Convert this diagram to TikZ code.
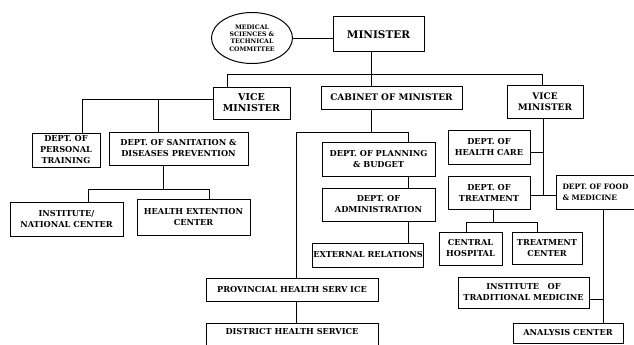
\documentclass[tikz,border=0pt]{standalone}
\usepackage{fontspec}
\setmainfont{DejaVu Serif}
\usetikzlibrary{shapes, calc}

\begin{document}
\begin{tikzpicture}[x=1pt, y=-1pt,
    box/.style={draw, line width=1pt, align=center, inner sep=1pt, font=\bfseries\fontsize{8.2}{11}\selectfont},
    link/.style={line width=0.9pt}]
    \useasboundingbox (0,0) rectangle (634,345);
    \clip (0,0) rectangle (634,345);

    \node[box, ellipse, minimum width=81, minimum height=51, inner sep=0pt, font=\bfseries\fontsize{6.2}{7.4}\selectfont] (committee) at (252,38) {MEDICAL\\SCIENCES \&\\TECHNICAL\\COMMITTEE};
    \node[box, minimum width=91, minimum height=35, font=\bfseries\fontsize{10.5}{12}\selectfont] (minister) at (378.5,34.5) {MINISTER};
    \node[box, minimum width=77, minimum height=32, font=\bfseries\fontsize{9.5}{11}\selectfont] (vicel) at (251.5,103) {VICE\\MINISTER};
    \node[box, minimum width=141, minimum height=23, font=\bfseries\fontsize{9}{10}\selectfont] (cabinet) at (391.5,97.5) {CABINET OF MINISTER};
    \node[box, minimum width=76, minimum height=33, font=\bfseries\fontsize{9}{11}\selectfont] (vicer) at (545,101.5) {VICE\\MINISTER};

    \node[box, minimum width=68, minimum height=34] (personal) at (66,150) {DEPT. OF\\PERSONAL\\TRAINING};
    \node[box, minimum width=139, minimum height=33] (sanitation) at (178.5,148.5) {DEPT. OF SANITATION \&\\DISEASES PREVENTION};
    \node[box, minimum width=113, minimum height=34] (institute) at (66.5,219) {INSTITUTE/\\NATIONAL CENTER};
    \node[box, minimum width=113, minimum height=36] (extension) at (193.5,217) {HEALTH EXTENTION\\CENTER};

    \node[box, minimum width=113, minimum height=34] (planning) at (378.5,159) {DEPT. OF PLANNING\\\& BUDGET};
    \node[box, minimum width=113, minimum height=33] (admin) at (378.5,204.5) {DEPT. OF\\ADMINISTRATION};
    \node[box, minimum width=110, minimum height=24] (external) at (368,255) {EXTERNAL RELATIONS};
    \node[box, minimum width=172, minimum height=23] (provincial) at (292,289.5) {PROVINCIAL HEALTH SERV ICE};
    \node[box, anchor=north, minimum width=172, inner ysep=5pt, text depth=20pt] (district) at (292,323) {DISTRICT HEALTH SERVICE};

    \node[box, minimum width=82, minimum height=34] (healthcare) at (489,147) {DEPT. OF\\HEALTH CARE};
    \node[box, minimum width=82, minimum height=33] (treatment) at (489,192.5) {DEPT. OF\\TREATMENT};
    \node[box, anchor=west, align=left, minimum height=34, text width=80pt, inner xsep=6pt, font=\bfseries\fontsize{7.4}{11}\selectfont] (food) at (556,192) {DEPT. OF FOOD\\\& MEDICINE};
    \node[box, minimum width=63, minimum height=33] (hospital) at (470.5,248.5) {CENTRAL\\HOSPITAL};
    \node[box, minimum width=70, minimum height=32] (tcenter) at (547,248) {TREATMENT\\CENTER};
    \node[box, minimum width=131, minimum height=31] (traditional) at (523.5,292.5) {INSTITUTE~~~OF\\TRADITIONAL MEDICINE};
    \node[box, minimum width=110, minimum height=20] (analysis) at (568,333) {ANALYSIS CENTER};

    \coordinate (tl) at (227,74);
    \coordinate (tm) at (371,74);
    \coordinate (tr) at (542,74);
    \coordinate (pl) at (82,99);
    \coordinate (sl) at (158,99);
    \coordinate (sb) at (163,189);
    \coordinate (il) at (88,189);
    \coordinate (hl) at (209,189);
    \coordinate (cb) at (371,132);
    \coordinate (pv) at (296,132);
    \coordinate (pp) at (408,132);
    \coordinate (rb) at (543,195);
    \coordinate (hc) at (543,152);
    \coordinate (tb) at (493,222);
    \coordinate (ch) at (466,222);
    \coordinate (tc) at (537,222);
    \coordinate (fa) at (603,299);

    \draw[link] (committee.east) -- (committee.east -| minister.west);
    \draw[link] (minister.south -| tm) -- (cabinet.north -| tm);
    \draw[link] (vicel.north -| tl) -- (tl) -- (tr) -- (vicer.north -| tr);

    \draw[link] (personal.north -| pl) -- (pl) -- (pl -| vicel.west);
    \draw[link] (sl) -- (sanitation.north -| sl);
    \draw[link] (sanitation.south -| sb) -- (sb);
    \draw[link] (institute.north -| il) -- (il) -- (hl) -- (extension.north -| hl);

    \draw[link] (cabinet.south -| cb) -- (cb);
    \draw[link] (provincial.north -| pv) -- (pv) -- (pp) -- (planning.north -| pp);
    \draw[link] (planning.south -| pp) -- (admin.north -| pp);
    \draw[link] (admin.south -| pp) -- (external.north -| pp);
    \draw[link] (provincial.south -| pv) -- (district.north -| pv);

    \draw[link] (vicer.south -| rb) -- (rb);
    \draw[link] (hc) -- (hc -| healthcare.east);
    \draw[link] (rb -| treatment.east) -- (rb -| food.west);
    \draw[link] (treatment.south -| tb) -- (tb);
    \draw[link] (hospital.north -| ch) -- (ch) -- (tc) -- (tcenter.north -| tc);
    \draw[link] (food.south -| fa) -- (analysis.north -| fa);
    \draw[link] (traditional.east |- fa) -- (fa);
\end{tikzpicture}
\end{document}
